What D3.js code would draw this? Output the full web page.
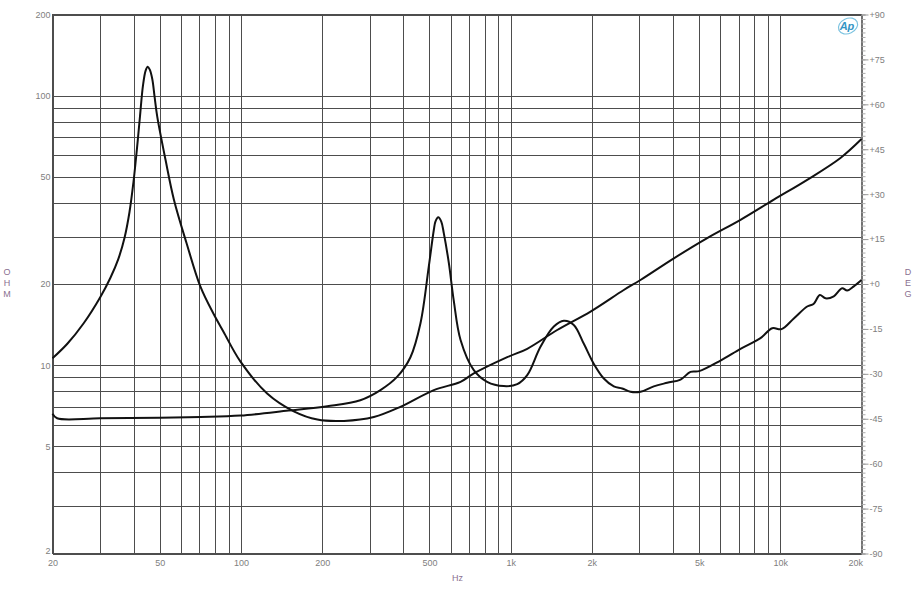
<!DOCTYPE html>
<html><head><meta charset="utf-8">
<script src="https://cdn.jsdelivr.net/npm/d3@7"></script>
<style>
body{margin:0;background:#fff;}
svg{display:block;}
text{font-family:"Liberation Sans",Arial,sans-serif;}
</style>
</head><body>
<svg id="c" width="914" height="600"></svg>
<script>
// ---- data ----
const freqWoofer = [20, 22.7, 26.1, 30.1, 32.8, 35.1, 37.0, 38.6, 39.9, 41.1, 42.2, 43.3, 44.3, 45.1, 45.9, 46.9, 47.8, 48.9, 52.5, 56.4, 62.8, 70.8, 79.1, 86.1, 99.6, 125, 157, 192, 241, 311, 390, 519, 652, 730, 971, 1152, 1488, 1978, 2627, 3030, 4028, 5356, 7118, 9460, 12578, 16712, 20000];
const ohmWoofer  = [10.6, 12.0, 14.3, 17.9, 21.1, 24.8, 29.7, 37.0, 47.5, 63.0, 83.5, 108.9, 123.9, 128, 124.8, 115, 99.4, 83.8, 57.8, 41.1, 28.4, 19.5, 15.5, 13.3, 10.3, 7.85, 6.74, 6.28, 6.21, 6.42, 7.0, 8.08, 8.67, 9.31, 10.7, 11.5, 13.5, 15.8, 19.0, 20.7, 24.9, 29.6, 34.6, 41.1, 48.7, 58.7, 69.0];

const freqTweeter = [20, 20.8, 30, 50, 70.8, 99.6, 150, 209, 277, 329, 379, 425, 463, 497, 519, 526, 539, 553, 565, 590, 615, 652, 730, 818, 943, 1058, 1152, 1290, 1446, 1574, 1714, 1868, 2035, 2215, 2413, 2592, 2781, 3030, 3394, 3806, 4266, 4644, 5000, 6000, 7118, 8440, 9332, 10100, 11220, 12578, 13308, 14010, 14712, 15780, 16950, 17700, 18726, 20000];
const ohmTweeter  = [6.6, 6.35, 6.35, 6.38, 6.42, 6.5, 6.78, 7.04, 7.41, 8.08, 9.04, 10.7, 14.3, 23.2, 31.8, 34.1, 35.4, 34.1, 30.9, 23.9, 17.4, 12.4, 9.58, 8.67, 8.36, 8.5, 9.18, 11.7, 13.9, 14.6, 14.1, 12.0, 10.1, 8.92, 8.34, 8.19, 7.96, 7.96, 8.34, 8.6, 8.84, 9.44, 9.5, 10.4, 11.5, 12.6, 13.7, 13.6, 14.9, 16.5, 16.9, 18.2, 17.7, 18.0, 19.3, 18.9, 19.6, 20.7];

const ohmTicks = [2, 5, 10, 20, 50, 100, 200];
const ohmGrid = [2,3,4,5,6,7,8,9,10,20,30,40,50,60,70,80,90,100,200];
const hzTicks = [20, 50, 100, 200, 500, 1000, 2000, 5000, 10000, 20000];
const hzTickLabels = ["20","50","100","200","500","1k","2k","5k","10k","20k"];
const hzGrid = [20,30,40,50,60,70,80,90,100,200,300,400,500,600,700,800,900,1000,2000,3000,4000,5000,6000,7000,8000,9000,10000,20000];
const degTicks = [90, 75, 60, 45, 30, 15, 0, -15, -30, -45, -60, -75, -90];
const degTickLabels = ["+90","+75","+60","+45","+30","+15","+0","-15","-30","-45","-60","-75","-90"];
const degMinor = d3.range(-90, 90.01, 1.5);

// ---- layout ----
const L = 52.5, R = 861.5, T = 14.5, B = 553.5;
const svg = d3.select("#c");
const x = d3.scaleLog().domain([20, 20000]).range([L, R]);
const y = d3.scaleLog().domain([2, 200]).range([B, T]);
const yDeg = d3.scaleLinear().domain([-90, 90]).range([B, T]);

const gridColor = "#4d4d4d";
const tickText = "#808080";
const titleColor = "#8a7090";
const FONT = '"Liberation Sans",Arial,sans-serif';

// grid
const g = svg.append("g").attr("shape-rendering", "crispEdges");
g.selectAll("line.h").data(ohmGrid).join("line")
  .attr("x1", L).attr("x2", R)
  .attr("y1", d => Math.round(y(d)) + 0.5).attr("y2", d => Math.round(y(d)) + 0.5)
  .attr("stroke", gridColor).attr("stroke-width", 1);
g.selectAll("line.v").data(hzGrid).join("line")
  .attr("y1", T).attr("y2", B)
  .attr("x1", d => Math.round(x(d)) + 0.5).attr("x2", d => Math.round(x(d)) + 0.5)
  .attr("stroke", gridColor).attr("stroke-width", 1);
g.append("rect").attr("x", L).attr("y", T).attr("width", R - L).attr("height", B - T)
  .attr("fill", "none").attr("stroke", gridColor);

// left axis labels
const ax = svg.append("g").attr("transform", `translate(${L - 2},0)`)
  .call(d3.axisLeft(y).tickValues(ohmTicks).tickFormat(d3.format("d")).tickSize(0).tickPadding(0));
ax.select(".domain").remove();
ax.selectAll("text").attr("fill", tickText).style("font-size", "9px").style("font-family", FONT);
ax.selectAll(".tick").filter(d => d === 2).select("text").attr("y", -3);

// bottom axis labels
const bx = svg.append("g").attr("transform", `translate(0,${B + 6})`)
  .call(d3.axisBottom(x).tickValues(hzTicks).tickFormat((d, i) => hzTickLabels[i]).tickSize(0).tickPadding(0));
bx.select(".domain").remove();
bx.selectAll("text").attr("fill", tickText).style("font-size", "9px").style("font-family", FONT);
bx.selectAll(".tick").filter(d => d === 20000).select("text").attr("text-anchor", "end").attr("x", 1);

// right axis (degrees)
const rxMinor = svg.append("g").attr("transform", `translate(${R},0)`)
  .call(d3.axisRight(yDeg).tickValues(degMinor).tickSize(4).tickFormat(""));
rxMinor.select(".domain").attr("stroke", "#999");
rxMinor.selectAll("line").attr("stroke", "#aaa");
const rx = svg.append("g").attr("transform", `translate(${R},0)`)
  .call(d3.axisRight(yDeg).tickValues(degTicks).tickFormat((d, i) => degTickLabels[i]).tickSize(7).tickPadding(1));
rx.select(".domain").remove();
rx.selectAll("line").attr("stroke", "#999");
rx.selectAll("text").attr("fill", tickText).style("font-size", "9px").style("font-family", FONT);

// axis titles
svg.append("text").attr("x", (L + R) / 2 + 0.5).attr("y", 581).attr("text-anchor", "middle")
  .attr("fill", titleColor).style("font-size", "9px").text("Hz");
const ohm = svg.append("text").attr("x", 7).attr("y", 275).attr("text-anchor", "middle")
  .attr("fill", titleColor).style("font-size", "9px");
["O","H","M"].forEach((c, i) => ohm.append("tspan").attr("x", 7).attr("dy", i ? 11 : 0).text(c));
const deg = svg.append("text").attr("x", 908).attr("y", 275).attr("text-anchor", "middle")
  .attr("fill", titleColor).style("font-size", "9px");
["D","E","G"].forEach((c, i) => deg.append("tspan").attr("x", 908).attr("dy", i ? 11 : 0).text(c));

// AP logo
svg.append("ellipse").attr("cx", 848).attr("cy", 26).attr("rx", 10).attr("ry", 7.5)
  .attr("transform", "rotate(-25 848 26)").attr("fill", "none").attr("stroke", "#7cc3e0").attr("stroke-width", 1.2);
svg.append("text").attr("x", 847).attr("y", 30).attr("text-anchor", "middle")
  .attr("fill", "#3595c4").style("font-size", "11px").style("font-style", "italic").style("font-weight", "bold").text("Ap");

// curves
const line = d3.line().x(d => x(d[0])).y(d => y(d[1])).curve(d3.curveCatmullRom.alpha(0.5));
const woofer = freqWoofer.map((f, i) => [f, ohmWoofer[i]]);
const tweeter = freqTweeter.map((f, i) => [f, ohmTweeter[i]]);
svg.append("path").datum(woofer).attr("d", line).attr("fill", "none").attr("stroke", "#111").attr("stroke-width", 2).attr("stroke-linejoin", "round");
svg.append("path").datum(tweeter).attr("d", line).attr("fill", "none").attr("stroke", "#111").attr("stroke-width", 2).attr("stroke-linejoin", "round");
</script>
</body></html>
